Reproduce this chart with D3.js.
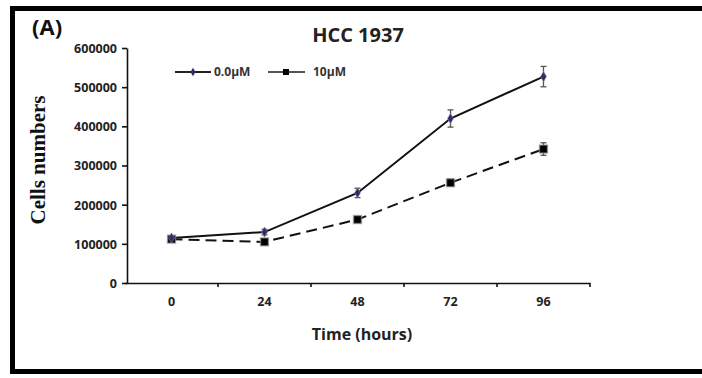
<!DOCTYPE html>
<html>
<head>
<meta charset="utf-8">
<script src="https://cdn.jsdelivr.net/npm/d3@7"></script>
<style>
  html, body { margin: 0; padding: 0; background: #fff; }
  svg { display: block; }
</style>
</head>
<body>
<svg id="chart" width="702" height="378"></svg>
<script>
const categories = ["0", "24", "48", "72", "96"];
const seriesNames = ["0.0\u03bcM", "10\u03bcM"];
const control = [115000, 130000, 230000, 420000, 527000];
const controlErr = [5000, 7000, 12000, 22000, 26000];
const treated = [112000, 105000, 162000, 256000, 342000];
const treatedErr = [4000, 4000, 6000, 9000, 16000];
const yTicks = [0, 100000, 200000, 300000, 400000, 500000, 600000];

const svg = d3.select("#chart");
const font = "'Open Sans', sans-serif";

// frame
svg.append("rect").attr("x", 12.5).attr("y", 8.5).attr("width", 720).attr("height", 363)
  .attr("fill", "none").attr("stroke", "#000").attr("stroke-width", 5);

const x = d3.scaleBand().domain(categories).range([125, 590]).padding(0);
const y = d3.scaleLinear().domain([0, 600000]).range([283, 48]);

// y axis
const yAxis = svg.append("g").attr("transform", "translate(127,0)")
  .call(d3.axisLeft(y).tickValues(yTicks).tickSize(5).tickSizeOuter(0).tickFormat(d3.format("d")));
yAxis.select(".domain").attr("stroke", "#111").attr("stroke-width", 1.6);
yAxis.selectAll(".tick line").attr("stroke", "#111").attr("stroke-width", 1.6);
yAxis.selectAll(".tick text").attr("font-family", font).attr("font-weight", "bold")
  .attr("font-size", 12.5).attr("fill", "#222").attr("x", -10).attr("dy", "0.35em");

// x axis (labels centered in bands, ticks at band boundaries)
const xAxis = svg.append("g").attr("transform", "translate(0,283)")
  .call(d3.axisBottom(x).tickSize(0).tickSizeOuter(0));
xAxis.select(".domain").attr("stroke", "#111").attr("stroke-width", 1.6);
xAxis.selectAll(".tick text").attr("font-family", font).attr("font-weight", "bold")
  .attr("font-size", 12.5).attr("fill", "#222").attr("y", 14);
const boundaries = categories.map(c => x(c)).concat([x.range()[1]]).slice(1);
xAxis.selectAll(".btick").data(boundaries).enter().append("line")
  .attr("x1", d => d).attr("x2", d => d).attr("y1", 0).attr("y2", 4)
  .attr("stroke", "#111").attr("stroke-width", 1.6);

const cx = d => x(d) + x.bandwidth() / 2;

// lines
const line = d3.line().x((d, i) => cx(categories[i])).y(d => y(d));
svg.append("path").datum(treated).attr("d", line).attr("fill", "none")
  .attr("stroke", "#111").attr("stroke-width", 2).attr("stroke-dasharray", "11,6");
svg.append("path").datum(control).attr("d", line).attr("fill", "none")
  .attr("stroke", "#111").attr("stroke-width", 2);

// error bars
function errBars(vals, errs, color) {
  const g = svg.append("g").attr("stroke", color).attr("stroke-width", 1.3);
  vals.forEach((v, i) => {
    const px = cx(categories[i]);
    g.append("line").attr("x1", px).attr("x2", px).attr("y1", y(v - errs[i])).attr("y2", y(v + errs[i]));
    g.append("line").attr("x1", px - 3).attr("x2", px + 3).attr("y1", y(v - errs[i])).attr("y2", y(v - errs[i]));
    g.append("line").attr("x1", px - 3).attr("x2", px + 3).attr("y1", y(v + errs[i])).attr("y2", y(v + errs[i]));
  });
}
errBars(control, controlErr, "#555");
errBars(treated, treatedErr, "#555");

// markers
svg.append("g").selectAll("rect").data(treated).enter().append("rect")
  .attr("x", (d, i) => cx(categories[i]) - 4).attr("y", d => y(d) - 4)
  .attr("width", 8).attr("height", 8).attr("fill", "#000")
  .attr("stroke", "#999").attr("stroke-width", 1.5).attr("stroke-opacity", 0.6);
svg.append("g").selectAll("path").data(control).enter().append("path")
  .attr("d", d3.symbol().type(d3.symbolDiamond).size(30))
  .attr("transform", (d, i) => `translate(${cx(categories[i])},${y(d)})`)
  .attr("fill", "#2e2e66").attr("stroke", "#8888aa").attr("stroke-width", 1).attr("stroke-opacity", 0.6);

// legend
const lg = svg.append("g");
lg.append("line").attr("x1", 175).attr("x2", 211).attr("y1", 72).attr("y2", 72).attr("stroke", "#222").attr("stroke-width", 2);
lg.append("path").attr("d", d3.symbol().type(d3.symbolDiamond).size(22)).attr("transform", "translate(193,72)").attr("fill", "#2e2e66");
lg.append("text").attr("x", 214).attr("y", 72).attr("dy", "0.35em").text(seriesNames[0])
  .attr("font-family", font).attr("font-weight", "bold").attr("font-size", 12).attr("fill", "#333");
lg.append("line").attr("x1", 268).attr("x2", 305).attr("y1", 72).attr("y2", 72).attr("stroke", "#555").attr("stroke-width", 2);
lg.append("rect").attr("x", 283).attr("y", 69).attr("width", 6).attr("height", 6).attr("fill", "#000");
lg.append("text").attr("x", 313).attr("y", 72).attr("dy", "0.35em").text(seriesNames[1])
  .attr("font-family", font).attr("font-weight", "bold").attr("font-size", 12).attr("fill", "#333");

// titles
svg.append("text").attr("x", 358).attr("y", 42).attr("text-anchor", "middle").text("HCC 1937")
  .attr("font-family", font).attr("font-weight", "bold").attr("font-size", 20).attr("fill", "#222");
svg.append("text").attr("x", 32).attr("y", 35).text("(A)")
  .attr("font-family", font).attr("font-weight", "bold").attr("font-size", 22).attr("fill", "#111");
svg.append("text").attr("x", 362).attr("y", 340).attr("text-anchor", "middle").text("Time (hours)")
  .attr("font-family", font).attr("font-weight", "bold").attr("font-size", 16).attr("fill", "#222");
svg.append("text").attr("transform", "translate(45,160) rotate(-90)").attr("text-anchor", "middle")
  .text("Cells numbers").attr("font-family", "'Liberation Serif', serif").attr("font-weight", "bold")
  .attr("font-size", 21).attr("fill", "#111");
</script>
</body>
</html>
